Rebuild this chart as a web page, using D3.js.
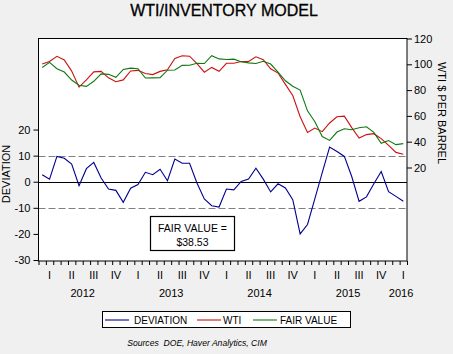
<!DOCTYPE html>
<html><head><meta charset="utf-8">
<script src="https://cdn.jsdelivr.net/npm/d3@7"></script>
<style>body{margin:0;background:#f0f0f0;}svg{display:block;font-family:Arial,"Liberation Sans",sans-serif;}</style>
</head><body><svg id="c" width="453" height="354"></svg>
<script>
// Monthly data Jan 2012 .. Feb 2016
const months = d3.range(50).map(i => new Date(Date.UTC(2012, i, 1)));
const deviation = [2.7,1.0,9.7,9.0,6.8,-1.5,5.0,7.4,1.4,-2.8,-3.3,-7.9,
  -2.5,-1.1,3.6,2.7,4.8,0.4,8.7,7.1,7.1,-0.5,-6.6,-9.2,
  -9.7,-2.8,-3.1,0.1,1.0,5.2,1.0,-3.9,-0.8,-2.4,-6.9,-20.0,
  -16.4,-6.5,3.5,13.3,11.6,9.7,2.0,-7.5,-5.8,-0.8,3.9,-3.8,
  -5.6,-7.5];
const wti = [100.3,102.2,106.2,103.3,94.7,82.3,87.9,94.1,94.5,89.5,86.5,87.9,
  94.8,95.3,92.9,92.0,94.5,95.8,104.6,106.6,106.3,100.5,93.9,97.6,
  94.6,100.8,100.8,102.1,102.2,105.8,103.6,96.5,93.2,84.4,75.8,59.3,
  47.2,50.6,47.8,54.5,59.3,59.8,50.9,42.9,45.5,46.2,42.4,37.2,
  31.7,30.3];
const fairValue = [97.5,101.5,96.6,94.0,87.8,83.8,82.9,86.8,92.6,92.2,89.9,96.0,
  97.0,96.6,89.4,89.5,89.7,95.4,95.6,99.2,99.3,100.8,100.6,106.7,
  104.2,103.7,104.0,102.0,101.1,100.6,102.3,100.2,94.0,87.2,83.0,80.0,
  63.9,55.5,44.0,41.0,47.5,50.0,49.3,50.8,51.6,47.2,38.7,40.9,
  37.7,38.5];
const leftTicks = [20,10,0,-10,-20,-30];
const rightTicks = [120,100,80,60,40,20];
const quarterLabels = ["I","II","III","IV"];
const yearLabels = ["2012","2013","2014","2015","2016"];
const bands = [-10,10];

const svg = d3.select("#c");
const L = 38.5, R = 407, T = 38.5, B = 261;
const x = d3.scaleLinear().domain([0, months.length]).range([L, R]);
const yL = d3.scaleLinear().domain([-30, 54.9]).range([260, T]);
const yR = d3.scaleLinear().domain([-52.5, 120]).range([B, T]);

svg.append("rect").attr("x",L).attr("y",T).attr("width",R-L).attr("height",B-T).attr("fill","#fff");

// title
svg.append("text").attr("x",224).attr("y",16).attr("text-anchor","middle")
  .attr("font-size",16).attr("fill","#000").attr("stroke","#000").attr("stroke-width",0.3).text("WTI/INVENTORY MODEL");

// dashed bands and zero line
svg.selectAll(".band").data(bands).join("line")
  .attr("x1",L).attr("x2",R).attr("y1",d=>Math.round(yL(d))+0.5).attr("y2",d=>Math.round(yL(d))+0.5)
  .attr("stroke","#808080").attr("stroke-dasharray","7,3").attr("stroke-width",1);
svg.append("line").attr("x1",L).attr("x2",R).attr("y1",Math.round(yL(0))+0.5).attr("y2",Math.round(yL(0))+0.5)
  .attr("stroke","#000").attr("stroke-width",1);

// lines
const idx = d3.range(months.length);
const lineL = d3.line().x(i=>x(i+0.5)).y(i=>yL(deviation[i]));
svg.append("path").attr("d",lineL(idx)).attr("fill","none").attr("stroke","#000090").attr("stroke-width",1.1);
const mk = arr => d3.line().x(i=>x(i+0.5)).y(i=>yR(arr[i]))(idx);
svg.append("path").attr("d",mk(wti)).attr("fill","none").attr("stroke","#cc1010").attr("stroke-width",1.1);
svg.append("path").attr("d",mk(fairValue)).attr("fill","none").attr("stroke","#107810").attr("stroke-width",1.1);

// frame
svg.append("rect").attr("x",L).attr("y",T).attr("width",R-L).attr("height",B-T)
  .attr("fill","none").attr("stroke","#000").attr("stroke-width",1);

// left axis
const gl = svg.append("g").attr("transform",`translate(${L},0)`)
  .call(d3.axisLeft(yL).tickValues(leftTicks).tickSize(5).tickPadding(3).tickFormat(d=>d));
gl.select(".domain").remove();
gl.selectAll("text").attr("font-size",11).attr("font-family","Arial,'Liberation Sans',sans-serif").attr("fill","#000");
// right axis
const gr = svg.append("g").attr("transform",`translate(${R},0)`)
  .call(d3.axisRight(yR).tickValues(rightTicks).tickSize(5).tickPadding(2));
gr.select(".domain").remove();
gr.selectAll("text").attr("font-size",11).attr("font-family","Arial,'Liberation Sans',sans-serif").attr("fill","#000");

// bottom axis: month ticks at boundaries
const gb = svg.append("g").attr("transform",`translate(0,${B})`)
  .call(d3.axisBottom(x).tickValues(d3.range(0, months.length+1)).tickSize(4).tickFormat(""));
gb.select(".domain").remove();
// quarter labels at middle month
svg.selectAll(".q").data(idx.filter(i=>i%3===1)).join("text")
  .attr("x",i=>x(i+0.5)).attr("y",279).attr("text-anchor","middle").attr("font-size",11)
  .text(i=>quarterLabels[Math.floor(months[i].getUTCMonth()/3)]);
svg.selectAll(".yr").data(yearLabels).join("text")
  .attr("x",(d,k)=> k<4 ? x(k*12+6) : x(k*12+1.2)).attr("y",297).attr("text-anchor","middle").attr("font-size",11)
  .text(d=>d);

// axis titles
svg.append("text").attr("transform","translate(10,174) rotate(-90)").attr("text-anchor","middle")
  .attr("font-size",11).text("DEVIATION");
svg.append("text").attr("transform","translate(438,113) rotate(90)").attr("text-anchor","middle")
  .attr("font-size",11).text("WTI $ PER BARREL");

// fair value box
svg.append("rect").attr("x",150.5).attr("y",216.5).attr("width",84).attr("height",34)
  .attr("fill","#fff").attr("stroke","#000").attr("stroke-width",1.2);
svg.append("text").attr("x",192.5).attr("y",232).attr("text-anchor","middle").attr("font-size",10.5).text("FAIR VALUE =");
svg.append("text").attr("x",192.5).attr("y",246).attr("text-anchor","middle").attr("font-size",10.5)
  .text("$" + d3.format(".2f")(fairValue[fairValue.length-1] + 0.03));

// legend
const lg = svg.append("g");
lg.append("rect").attr("x",102.5).attr("y",311.5).attr("width",248).attr("height",16).attr("fill","#fff").attr("stroke","#000");
const items = [["DEVIATION","#000090",105,134],["WTI","#cc1010",197,223],["FAIR VALUE","#107810",253,280]];
items.forEach(([t,c,x0,tx])=>{
  lg.append("line").attr("x1",x0).attr("x2",x0+24).attr("y1",320).attr("y2",320).attr("stroke",c).attr("stroke-width",1.1);
  lg.append("text").attr("x",tx).attr("y",323.5).attr("font-size",10).text(t);
});

svg.append("text").attr("x",197).attr("y",346).attr("text-anchor","middle").attr("font-size",8.6)
  .attr("font-style","italic").text("Sources\u00a0 DOE, Haver Analytics, CIM");
</script></body></html>
